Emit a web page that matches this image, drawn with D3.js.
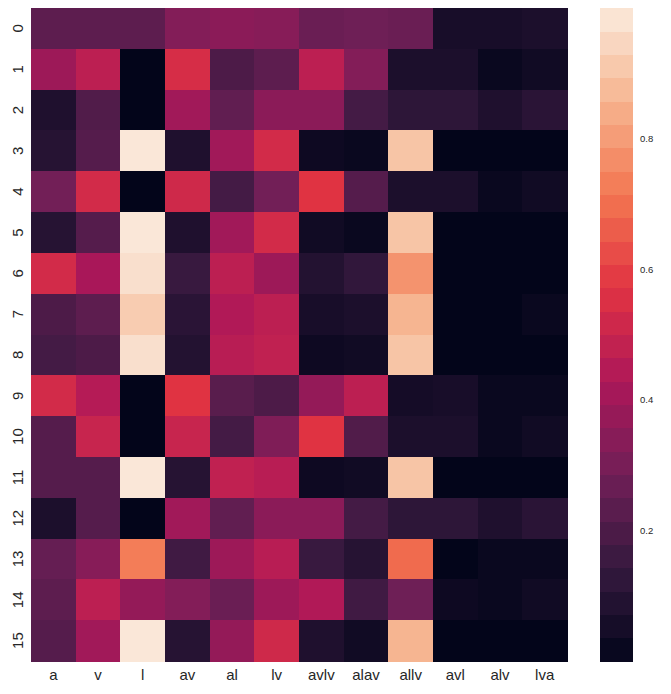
<!DOCTYPE html>
<html>
<head>
<meta charset="utf-8">
<script src="https://cdn.jsdelivr.net/npm/d3@7.9.0/dist/d3.min.js"></script>
<style>
  body { margin: 0; background: #fff; }
  svg { display: block; font-family: Arial, "Liberation Sans", sans-serif; }
</style>
</head>
<body>
<svg id="chart" width="671" height="694"></svg>
<script>
// column labels and row labels
const columns = ['a', 'v', 'l', 'av', 'al', 'lv', 'avlv', 'alav', 'allv', 'avl', 'alv', 'lva'];
const rows = d3.range(16).map(String);

// cell values, one array per row
const values = [
  [0.24, 0.24, 0.24, 0.33, 0.35, 0.34, 0.27, 0.28, 0.27, 0.06, 0.06, 0.07],
  [0.39, 0.47, 0.00, 0.54, 0.20, 0.24, 0.47, 0.33, 0.07, 0.07, 0.02, 0.04],
  [0.08, 0.21, 0.00, 0.40, 0.25, 0.35, 0.35, 0.18, 0.12, 0.12, 0.08, 0.11],
  [0.10, 0.22, 0.99, 0.08, 0.40, 0.53, 0.03, 0.02, 0.90, 0.00, 0.00, 0.00],
  [0.29, 0.53, 0.00, 0.52, 0.18, 0.29, 0.57, 0.22, 0.07, 0.07, 0.02, 0.04],
  [0.10, 0.22, 0.99, 0.08, 0.40, 0.53, 0.04, 0.02, 0.90, 0.00, 0.00, 0.00],
  [0.53, 0.42, 0.97, 0.15, 0.47, 0.39, 0.09, 0.13, 0.78, 0.00, 0.00, 0.00],
  [0.20, 0.24, 0.92, 0.11, 0.44, 0.47, 0.06, 0.07, 0.86, 0.00, 0.00, 0.02],
  [0.18, 0.20, 0.97, 0.09, 0.46, 0.48, 0.03, 0.04, 0.90, 0.00, 0.00, 0.00],
  [0.53, 0.45, 0.00, 0.57, 0.23, 0.20, 0.37, 0.47, 0.05, 0.06, 0.02, 0.02],
  [0.22, 0.50, 0.00, 0.50, 0.18, 0.32, 0.57, 0.21, 0.07, 0.07, 0.02, 0.04],
  [0.22, 0.22, 0.99, 0.10, 0.48, 0.46, 0.03, 0.04, 0.90, 0.00, 0.00, 0.00],
  [0.07, 0.22, 0.00, 0.40, 0.25, 0.35, 0.35, 0.18, 0.12, 0.12, 0.08, 0.11],
  [0.26, 0.34, 0.73, 0.17, 0.39, 0.46, 0.15, 0.10, 0.69, 0.00, 0.02, 0.02],
  [0.24, 0.47, 0.37, 0.33, 0.27, 0.39, 0.44, 0.17, 0.28, 0.03, 0.02, 0.04],
  [0.22, 0.40, 0.99, 0.10, 0.37, 0.52, 0.08, 0.04, 0.86, 0.00, 0.00, 0.00]
];

const colorTicks = [0.2, 0.4, 0.6, 0.8];

// seaborn "rocket" palette stops
const rocketStops = ['#03051a', '#35193e', '#701f57', '#ad1759', '#e13342', '#f37651', '#f6b48f', '#faebdd'];
const rocket = d3.scaleLinear()
  .domain(d3.range(rocketStops.length).map(i => i / (rocketStops.length - 1)))
  .range(rocketStops)
  .interpolate(d3.interpolateRgb)
  .clamp(true);

const vmin = 0, vmax = 1.0;
const color = v => rocket((v - vmin) / (vmax - vmin));

const svg = d3.select('#chart');
const textColor = '#262626';

// heatmap area
const plotLeft = 31, plotTop = 8, plotRight = 567, plotBottom = 661;

const x = d3.scaleBand().domain(columns).range([plotLeft, plotRight]);
const y = d3.scaleBand().domain(rows).range([plotTop, plotBottom]);

const cells = [];
values.forEach((row, i) => row.forEach((v, j) => cells.push({ r: rows[i], c: columns[j], v })));

svg.append('g')
  .selectAll('rect')
  .data(cells)
  .join('rect')
  .attr('x', d => x(d.c))
  .attr('y', d => y(d.r))
  .attr('width', x.bandwidth() + 0.5)
  .attr('height', y.bandwidth() + 0.5)
  .attr('fill', d => color(d.v))
  .attr('shape-rendering', 'crispEdges');

// x labels
svg.append('g')
  .selectAll('text')
  .data(columns)
  .join('text')
  .attr('x', d => x(d) + x.bandwidth() / 2)
  .attr('y', 680)
  .attr('text-anchor', 'middle')
  .attr('font-size', 15)
  .attr('fill', textColor)
  .text(d => d);

// y labels, rotated
svg.append('g')
  .selectAll('text')
  .data(rows)
  .join('text')
  .attr('transform', d => `translate(23,${y(d) + y.bandwidth() / 2}) rotate(-90)`)
  .attr('text-anchor', 'middle')
  .attr('font-size', 15)
  .attr('fill', textColor)
  .text(d => d);

// colorbar, drawn in bands
const cbX = 600, cbW = 33;
const cbScale = d3.scaleLinear().domain([vmin, vmax]).range([plotBottom, plotTop]);
const nBands = 28;
const bands = d3.range(nBands).map(i => ({
  lo: vmin + (vmax - vmin) * i / nBands,
  hi: vmin + (vmax - vmin) * (i + 1) / nBands
}));

svg.append('g')
  .selectAll('rect')
  .data(bands)
  .join('rect')
  .attr('x', cbX)
  .attr('width', cbW)
  .attr('y', d => cbScale(d.hi))
  .attr('height', d => cbScale(d.lo) - cbScale(d.hi) + 0.5)
  .attr('fill', d => color((d.lo + d.hi) / 2))
  .attr('shape-rendering', 'crispEdges');

const cbAxis = svg.append('g')
  .attr('transform', `translate(${cbX + cbW},0)`)
  .call(d3.axisRight(cbScale).tickValues(colorTicks).tickSize(0).tickPadding(7).tickFormat(d3.format('.1f')));
cbAxis.select('.domain').remove();
cbAxis.selectAll('text')
  .attr('font-size', 9.5)
  .attr('font-family', 'Arial, "Liberation Sans", sans-serif')
  .attr('fill', textColor);
</script>
</body>
</html>
